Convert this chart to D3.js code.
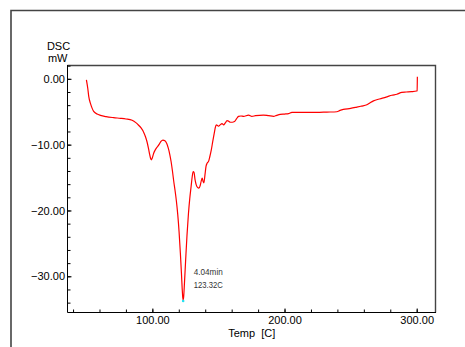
<!DOCTYPE html>
<html><head><meta charset="utf-8">
<script src="https://cdn.jsdelivr.net/npm/d3@7"></script>
<style>
html,body{margin:0;padding:0;background:#fff;}
svg{display:block;font-family:"Liberation Sans",Arial,sans-serif;}
</style></head>
<body>
<svg id="c" width="465" height="347"></svg>
<script>
const temp = [50.1,51.1,51.9,53.1,54.4,55.6,58.2,60.7,65,70.7,76,80,84.7,87.5,89.6,91.6,93.4,94.8,96.0,97.1,98.0,98.7,99.3,100.0,101.0,102.2,103.5,105,106.5,108.0,109.5,110.8,112,113.2,114.2,115.2,116.2,117.2,118.2,119.2,120.2,121.2,122.0,122.6,123.0,123.3,123.7,124.3,125.2,126.2,127.3,128.3,129.3,130.2,130.9,131.5,132.3,133.2,134.2,135.2,136.2,137.0,137.7,138.4,139.0,139.8,140.6,141.5,142.6,143.5,144.6,145.7,146.8,147.6,148.4,149.3,150.1,151.3,152.7,153.9,155.2,156.5,157.8,159.0,160.5,162.1,163.6,165.2,167,169,172.8,175.3,178,184,188,191.7,194,196.7,200,203,205.6,210,224.5,232,239.6,242,244.5,250,254.7,258,262.3,265,267.3,271,274.9,278,281.2,285,288.7,292,296,300.0,300.3,300.5];
const dsc = [-0.15,-1.4,-2.7,-3.7,-4.45,-4.95,-5.35,-5.55,-5.75,-5.9,-6.0,-6.1,-6.3,-6.65,-7.05,-7.5,-8.1,-8.8,-9.6,-10.6,-11.5,-12.1,-12.3,-12.0,-11.3,-10.8,-10.4,-10.0,-9.5,-9.3,-9.4,-9.8,-10.5,-11.5,-12.6,-14.0,-15.6,-17.0,-18.6,-20.6,-23.2,-26.5,-29.5,-32.0,-33.2,-33.6,-33.1,-31.0,-27.5,-23.8,-20.5,-18.2,-16.4,-14.8,-14.1,-14.2,-15.3,-16.1,-16.5,-16.6,-16.2,-15.5,-15.1,-15.6,-15.8,-14.6,-13.3,-12.8,-12.5,-11.8,-10.8,-9.5,-8.3,-7.4,-7.0,-7.1,-7.2,-7.0,-6.8,-7.0,-6.7,-6.35,-6.45,-6.6,-6.6,-6.5,-6.1,-5.7,-5.65,-5.7,-5.5,-5.7,-5.6,-5.5,-5.6,-5.7,-5.55,-5.4,-5.35,-5.3,-5.1,-5.1,-5.1,-5.05,-5.0,-4.8,-4.65,-4.5,-4.3,-4.15,-3.95,-3.6,-3.35,-3.1,-2.9,-2.7,-2.5,-2.35,-2.05,-2.0,-1.95,-1.85,-1.8,0.3];
const xMajor = [100, 200, 300];
const xMinor = [40,60,80,100,120,140,160,180,200,220,240,260,280,300];
const yMajor = [0, -10, -20, -30];
const yMinor = [2,0,-2,-4,-6,-8,-10,-12,-14,-16,-18,-20,-22,-24,-26,-28,-30,-32,-34];
const peakT = 123.3, peakV = -33.6;
const annot = ["4.04min", "123.32C"];
const xTitle = "Temp  [C]";
const yTitle = ["DSC", "mW"];

const svg = d3.select("#c");
const x = d3.scaleLinear().domain([35.8, 314.6]).range([67.5, 436]);
const y = d3.scaleLinear().domain([2.1, -35.5]).range([65, 312.5]);

// outer frame
svg.append("path").attr("d","M11,347V10.5H465").attr("fill","none").attr("stroke","#444").attr("stroke-width",1.6);
// plot box top/right
svg.append("path").attr("d","M67.5,65.5H435.5V312.5").attr("fill","none").attr("stroke","#444").attr("stroke-width",1.4);

const fmt = d3.format(".2f");
// x axis
const gx = svg.append("g").attr("transform","translate(0,312.5)");
gx.call(d3.axisBottom(x).tickValues(xMinor).tickSize(-3).tickFormat(""));
gx.select(".domain").remove();
const gx2 = svg.append("g").attr("transform","translate(0,312.5)");
gx2.call(d3.axisBottom(x).tickValues(xMajor).tickSize(-4).tickPadding(3.5).tickFormat(fmt));
gx2.select(".domain").remove();
// y axis
const gy = svg.append("g").attr("transform","translate(67.5,0)");
gy.call(d3.axisLeft(y).tickValues(yMinor).tickSize(-3).tickFormat(""));
gy.select(".domain").remove();
const gy2 = svg.append("g").attr("transform","translate(67.5,0)");
gy2.call(d3.axisLeft(y).tickValues(yMajor).tickSize(-4).tickPadding(2.5).tickFormat(fmt));
gy2.select(".domain").remove();
svg.selectAll(".tick text").attr("font-size",11).attr("font-family","Liberation Sans, Arial, sans-serif").attr("fill","#000");
svg.selectAll(".tick line").attr("stroke","#000");
// axis lines
svg.append("path").attr("d","M67.5,65V312.5H436").attr("fill","none").attr("stroke","#000").attr("stroke-width",1);

// titles
svg.append("text").attr("x",58.5).attr("y",49.5).attr("text-anchor","middle").attr("font-size",11).text(yTitle[0]);
svg.append("text").attr("x",57.7).attr("y",61.7).attr("text-anchor","middle").attr("font-size",11).text(yTitle[1]);
svg.append("text").attr("x",251.7).attr("y",336.5).attr("text-anchor","middle").attr("font-size",11).style("white-space","pre").text(xTitle);

// curve
const pts = temp.map((t,i)=>[t,dsc[i]]);
const line = d3.line().x(d=>x(d[0])).y(d=>y(d[1])).curve(d3.curveMonotoneX);
svg.append("path").datum(pts).attr("d",line).attr("fill","none").attr("stroke","#ff0000").attr("stroke-width",1.2);

// peak marker & annotation
svg.append("circle").attr("cx",x(peakT)).attr("cy",y(peakV)+1).attr("r",1.3).attr("fill","#22e0f0");
const ax = x(peakT)+10.6, ay = y(peakV);
svg.append("text").attr("x",ax).attr("y",ay-24.5).attr("font-size",8.6).attr("fill","#333").attr("textLength",29).attr("lengthAdjust","spacingAndGlyphs").text(annot[0]);
svg.append("text").attr("x",ax).attr("y",ay-12).attr("font-size",8.6).attr("fill","#333").attr("textLength",29).attr("lengthAdjust","spacingAndGlyphs").text(annot[1]);
</script>
</body></html>
